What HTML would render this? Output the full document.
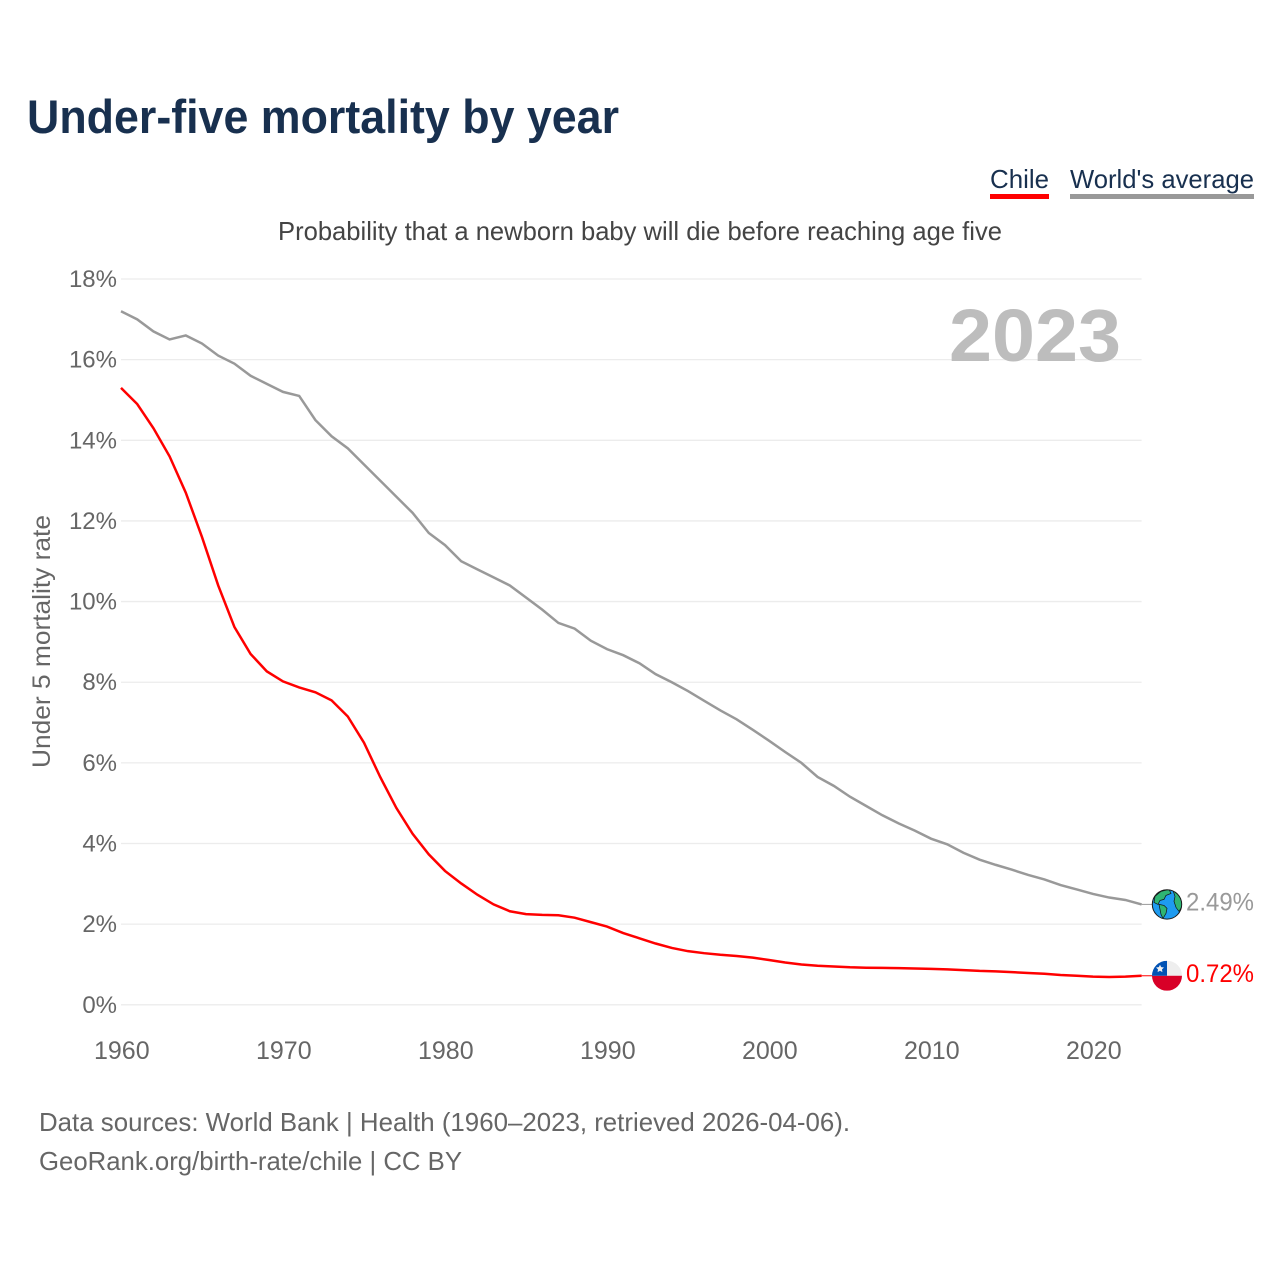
<!DOCTYPE html>
<html lang="en">
<head>
<meta charset="utf-8">
<title>Under-five mortality by year</title>
<style>
html,body{margin:0;padding:0;background:#fff;}
svg{display:block;font-family:"Liberation Sans",sans-serif;}
</style>
</head>
<body>
<svg id="chart" xmlns="http://www.w3.org/2000/svg" width="1280" height="1280" viewBox="0 0 1280 1280">
  <rect width="1280" height="1280" fill="#ffffff"/>
  <text x="27" y="133" font-size="47" font-weight="700" fill="#18304f" textLength="592" lengthAdjust="spacingAndGlyphs">Under-five mortality by year</text>

  <g>
    <text x="990" y="188" font-size="26" fill="#18304f" textLength="59" lengthAdjust="spacingAndGlyphs">Chile</text>
    <rect x="990" y="194" width="59" height="5" fill="#ff0000"/>
  </g>
  <g>
    <text x="1070" y="188" font-size="26" fill="#18304f" textLength="184" lengthAdjust="spacingAndGlyphs">World's average</text>
    <rect x="1070" y="194" width="184" height="5" fill="#999999"/>
  </g>

  <text x="278" y="240" font-size="26" fill="#444444" textLength="724" lengthAdjust="spacingAndGlyphs">Probability that a newborn baby will die before reaching age five</text>
  <text transform="translate(50,768) rotate(-90)" font-size="25" fill="#666666" textLength="253" lengthAdjust="spacingAndGlyphs">Under 5 mortality rate</text>

  <g id="grid"></g>
  <g id="yticks"></g>
  <g id="xticks"></g>

  <text x="949" y="361" font-size="74" font-weight="700" fill="#bdbdbd" textLength="172" lengthAdjust="spacingAndGlyphs">2023</text>

  <g id="series"></g>

  <g id="world-end">
    <defs>
      <clipPath id="world-clip"><circle cx="0" cy="0" r="14.5"/></clipPath>
      <clipPath id="chile-clip"><circle cx="0" cy="0" r="15"/></clipPath>
    </defs>
    <g clip-path="url(#world-clip)">
      <circle cx="0" cy="0" r="15" fill="#1e9bf0"/>
      <path d="M-12,-8 L-6,-13 L2,-15 L4,-11 L-1,-9 L-3,-5 L-7,-4 L-9,0 L-13,-2 Z" fill="#2fb573" stroke="#111" stroke-width="0.7"/>
      <path d="M-8,0 L-3,1 L0,4 L-1,9 L-4,14 L-6,10 L-7,5 Z" fill="#2fb573" stroke="#111" stroke-width="0.7"/>
      <path d="M6,-14 L11,-10 L15,-4 L15,2 L12,7 L9,3 L7,-3 L8,-8 Z" fill="#2fb573" stroke="#111" stroke-width="0.7"/>
    </g>
    <circle cx="0" cy="0" r="14.7" fill="none" stroke="#1a1a1a" stroke-width="1"/>
  </g>

  <g id="chile-end">
    <g clip-path="url(#chile-clip)">
      <rect x="-15" y="-15" width="30" height="15" fill="#eeeeee"/>
      <rect x="-15" y="0" width="30" height="15" fill="#d80027"/>
      <rect x="-15" y="-15" width="15" height="15" fill="#0052b4"/>
      <polygon points="-7,-11 -5.8,-8.7 -3,-8.3 -5,-6.4 -4.6,-3.7 -7,-5 -9.4,-3.7 -9,-6.4 -11,-8.3 -8.2,-8.7" fill="#f0f0f0"/>
    </g>
  </g>

  <text x="39" y="1131" font-size="26" fill="#666666" textLength="811" lengthAdjust="spacingAndGlyphs">Data sources: World Bank | Health (1960–2023, retrieved 2026-04-06).</text>
  <text x="39" y="1170" font-size="26" fill="#666666" textLength="423" lengthAdjust="spacingAndGlyphs">GeoRank.org/birth-rate/chile | CC BY</text>
</svg>
<script>
const years = [];
for (let yr = 1960; yr <= 2023; yr++) years.push(yr);
const worldValues = [17.2,17.0,16.7,16.5,16.6,16.4,16.1,15.9,15.6,15.4,15.2,15.1,14.5,14.1,13.8,13.4,13.0,12.6,12.2,11.7,11.4,11.0,10.8,10.6,10.4,10.1,9.8,9.47,9.33,9.03,8.82,8.67,8.47,8.2,8.0,7.78,7.54,7.3,7.08,6.82,6.55,6.27,6.0,5.65,5.43,5.16,4.93,4.7,4.5,4.32,4.12,3.98,3.77,3.6,3.47,3.35,3.22,3.11,2.97,2.86,2.75,2.66,2.6,2.49];
const chileValues = [15.3,14.9,14.3,13.6,12.7,11.6,10.4,9.37,8.7,8.27,8.02,7.87,7.75,7.55,7.15,6.5,5.65,4.88,4.24,3.73,3.32,3.01,2.73,2.49,2.32,2.25,2.23,2.22,2.16,2.05,1.94,1.78,1.65,1.52,1.41,1.33,1.28,1.24,1.21,1.17,1.11,1.05,1.0,0.97,0.95,0.93,0.92,0.915,0.91,0.9,0.89,0.88,0.86,0.84,0.83,0.81,0.79,0.77,0.74,0.72,0.7,0.69,0.7,0.72];
const yTickValues = [0,2,4,6,8,10,12,14,16,18];
const xTickValues = [1960,1970,1980,1990,2000,2010,2020];

const NS = 'http://www.w3.org/2000/svg';
const X0 = 121, X1 = 1141.6, Y0 = 1004.8, Y1 = 279;
function xScale(v){ return X0 + (v - 1960) * (X1 - X0) / (2023 - 1960); }
function yScale(v){ return Y0 + v * (Y1 - Y0) / 18; }
function svgEl(tag){ return document.createElementNS(NS, tag); }

const grid = document.getElementById('grid');
const yticks = document.getElementById('yticks');
yTickValues.forEach(function(v){
  const line = svgEl('line');
  
  
  line.setAttribute('x1', X0);
  line.setAttribute('x2', X1);
  line.setAttribute('y1', yScale(v));
  line.setAttribute('y2', yScale(v));
  line.setAttribute('stroke', '#ececec');
  line.setAttribute('stroke-width', '1.3');
  grid.appendChild(line);

  const label = svgEl('text');
  
  
  label.setAttribute('x', 117);
  label.setAttribute('y', yScale(v) + 8);
  label.setAttribute('text-anchor', 'end');
  label.setAttribute('font-size', '24');
  label.setAttribute('fill', '#666666');
  label.textContent = v + '%';
  yticks.appendChild(label);
});

const xticks = document.getElementById('xticks');
xTickValues.forEach(function(v){
  const label = svgEl('text');
  
  
  label.setAttribute('x', xScale(v) + 0.8);
  label.setAttribute('y', 1059);
  label.setAttribute('text-anchor', 'middle');
  label.setAttribute('font-size', '25');
  label.setAttribute('fill', '#666666');
  label.textContent = v;
  xticks.appendChild(label);
});

function pathFor(values){
  return values.map(function(v, i){
    return (i ? 'L' : 'M') + xScale(years[i]).toFixed(2) + ',' + yScale(v).toFixed(2);
  }).join(' ');
}

const series = document.getElementById('series');

const worldLine = svgEl('path');


worldLine.setAttribute('d', pathFor(worldValues));
worldLine.setAttribute('fill', 'none');
worldLine.setAttribute('stroke', '#999999');
worldLine.setAttribute('stroke-width', '2.5');
series.appendChild(worldLine);

const chileLine = svgEl('path');


chileLine.setAttribute('d', pathFor(chileValues));
chileLine.setAttribute('fill', 'none');
chileLine.setAttribute('stroke', '#ff0000');
chileLine.setAttribute('stroke-width', '2.5');
series.appendChild(chileLine);

const worldLast = worldValues[worldValues.length - 1];
const chileLast = chileValues[chileValues.length - 1];

const worldLeader = svgEl('line');


worldLeader.setAttribute('x1', X1);
worldLeader.setAttribute('x2', 1153);
worldLeader.setAttribute('y1', yScale(worldLast));
worldLeader.setAttribute('y2', yScale(worldLast));
worldLeader.setAttribute('stroke', '#999999');
worldLeader.setAttribute('stroke-width', '1');
series.appendChild(worldLeader);

const chileLeader = svgEl('line');


chileLeader.setAttribute('x1', X1);
chileLeader.setAttribute('x2', 1153);
chileLeader.setAttribute('y1', yScale(chileLast));
chileLeader.setAttribute('y2', yScale(chileLast));
chileLeader.setAttribute('stroke', '#ff0000');
chileLeader.setAttribute('stroke-width', '1');
series.appendChild(chileLeader);

document.getElementById('world-end').setAttribute('transform', 'translate(1167,' + yScale(worldLast) + ')');
document.getElementById('chile-end').setAttribute('transform', 'translate(1167,' + yScale(chileLast) + ')');

const worldLabel = svgEl('text');


worldLabel.setAttribute('x', 1186);
worldLabel.setAttribute('y', yScale(worldLast) + 6);
worldLabel.setAttribute('font-size', '25');
worldLabel.setAttribute('fill', '#999999');
worldLabel.setAttribute('textLength', '68');
worldLabel.setAttribute('lengthAdjust', 'spacingAndGlyphs');
worldLabel.textContent = worldLast.toFixed(2) + '%';
series.appendChild(worldLabel);

const chileLabel = svgEl('text');


chileLabel.setAttribute('x', 1186);
chileLabel.setAttribute('y', yScale(chileLast) + 6);
chileLabel.setAttribute('font-size', '25');
chileLabel.setAttribute('fill', '#ff0000');
chileLabel.setAttribute('textLength', '68');
chileLabel.setAttribute('lengthAdjust', 'spacingAndGlyphs');
chileLabel.textContent = chileLast.toFixed(2) + '%';
series.appendChild(chileLabel);
</script>
</body>
</html>
